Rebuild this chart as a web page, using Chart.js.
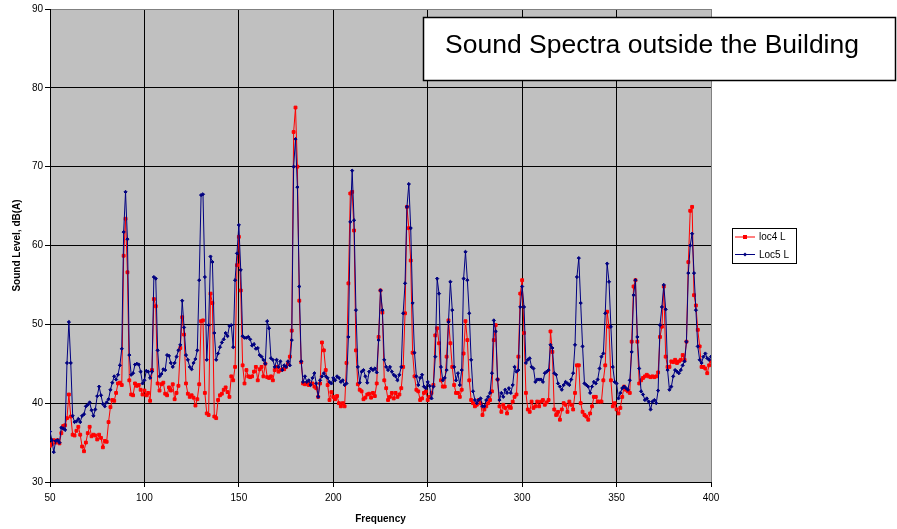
<!DOCTYPE html>
<html>
<head>
<meta charset="utf-8">
<title>Sound Spectra outside the Building</title>
<script src="https://cdn.jsdelivr.net/npm/chart.js@4.4.0/dist/chart.umd.min.js"></script>
<style>
  html, body { margin: 0; padding: 0; background: #ffffff; }
  #wrap { width: 897px; height: 529px; position: relative; }
  canvas { display: block; }
</style>
</head>
<body>
<div id="wrap"><canvas id="chart" width="897" height="529"></canvas></div>
<script>
// Spectrum start frequency and bin spacing (Hz)
const FREQ_START = 50;
const FREQ_STEP = 1;

// Sound level per frequency bin, dB(A) — measurement location 4
const loc4 = [
  34.6, 34.8, 35.3, 35.0, 35.3, 34.9, 36.2, 37.1, 37.2, 38.1,
  41.1, 38.3, 36.0, 35.9, 36.5, 37.0, 36.0, 34.5, 33.9, 35.0,
  36.2, 37.0, 35.8, 36.0, 35.9, 35.4, 36.0, 35.6, 34.4, 35.2,
  35.1, 37.6, 39.5, 40.4, 40.3, 41.3, 42.5, 42.6, 42.3, 58.7,
  63.4, 56.6, 42.9, 41.1, 41.0, 42.5, 42.2, 42.3, 41.7, 41.1,
  41.6, 41.0, 41.3, 40.3, 44.2, 53.2, 52.3, 42.5, 41.6, 42.4,
  42.6, 41.2, 41.0, 42.0, 41.6, 42.4, 40.5, 41.3, 42.2, 47.0,
  50.9, 48.7, 42.5, 41.2, 40.8, 41.0, 40.7, 39.7, 40.5, 42.4,
  50.4, 50.5, 41.3, 38.7, 38.5, 53.9, 52.7, 38.3, 38.1, 40.4,
  41.0, 41.2, 41.7, 42.0, 41.4, 40.8, 43.4, 42.9, 44.6, 57.5,
  61.1, 54.3, 44.8, 42.5, 44.2, 43.4, 43.3, 43.4, 44.0, 44.6,
  42.9, 44.3, 44.6, 43.4, 45.0, 43.3, 43.2, 43.4, 42.9, 44.2,
  44.6, 44.0, 44.2, 44.3, 44.3, 44.6, 45.0, 45.9, 49.2, 74.4,
  77.5, 70.0, 53.0, 45.2, 42.5, 42.4, 42.5, 42.3, 42.5, 42.5,
  42.1, 41.9, 40.8, 42.5, 47.7, 46.7, 44.2, 42.3, 40.4, 41.4,
  40.8, 40.5, 40.9, 40.0, 39.6, 40.0, 39.6, 45.1, 55.2, 66.6,
  66.8, 61.9, 46.7, 42.4, 41.7, 41.5, 40.5, 40.7, 41.1, 41.2,
  40.7, 41.3, 40.9, 42.5, 48.4, 54.3, 51.5, 42.9, 41.9, 40.4,
  40.8, 41.3, 40.6, 41.3, 40.8, 41.1, 41.9, 44.6, 51.4, 64.9,
  62.2, 58.1, 46.4, 43.4, 41.7, 41.5, 40.4, 40.6, 41.3, 41.5,
  40.4, 40.8, 41.3, 42.3, 48.6, 49.5, 47.6, 42.9, 42.1, 42.1,
  45.9, 50.5, 47.6, 44.6, 42.3, 41.3, 41.3, 40.8, 41.7, 46.3,
  50.4, 48.0, 42.9, 40.4, 40.0, 39.6, 39.8, 40.4, 40.0, 38.5,
  39.2, 39.6, 40.0, 40.4, 41.5, 48.0, 49.9, 43.0, 39.6, 38.9,
  39.8, 39.4, 38.7, 39.6, 39.4, 40.2, 40.8, 41.1, 45.9, 53.9,
  55.6, 48.9, 41.3, 39.2, 38.9, 40.2, 39.4, 39.6, 40.2, 39.6,
  40.2, 40.4, 39.8, 40.1, 40.4, 49.1, 46.5, 39.2, 38.5, 38.9,
  37.9, 39.2, 40.0, 39.8, 38.9, 40.2, 39.8, 39.2, 41.3, 44.8,
  44.8, 40.0, 38.9, 38.5, 38.3, 37.9, 38.7, 39.6, 40.8, 40.8,
  40.2, 40.2, 40.2, 42.9, 44.8, 51.6, 49.7, 42.9, 39.6, 40.0,
  39.2, 38.7, 39.4, 40.8, 42.1, 41.7, 41.5, 41.3, 47.8, 54.8,
  55.6, 47.8, 42.5, 42.9, 43.2, 43.4, 43.6, 43.4, 43.3, 43.4,
  43.3, 43.4, 43.9, 48.4, 49.7, 54.8, 45.9, 44.6, 44.6, 45.3,
  45.2, 45.5, 45.1, 45.3, 45.5, 46.1, 45.5, 47.8, 57.9, 64.4,
  64.9, 53.7, 52.4, 49.3, 47.2, 44.6, 44.6, 44.4, 43.8, 44.8,
  45.3
];

// Sound level per frequency bin, dB(A) — measurement location 5
const loc5 = [
  36.4, 35.3, 33.8, 35.2, 35.3, 35.0, 36.9, 36.8, 36.6, 45.1,
  50.3, 45.1, 38.4, 37.6, 37.7, 38.0, 37.6, 38.4, 38.6, 39.6,
  39.8, 40.1, 39.1, 38.4, 39.2, 40.9, 42.1, 41.0, 39.9, 39.6,
  40.1, 40.5, 41.7, 42.6, 43.4, 43.0, 43.6, 44.8, 46.9, 61.7,
  66.8, 60.8, 46.1, 43.6, 43.8, 44.9, 45.0, 44.9, 44.0, 42.5,
  42.9, 44.1, 44.0, 43.2, 44.0, 56.0, 55.8, 46.7, 43.4, 43.7,
  44.3, 44.2, 46.1, 46.0, 45.1, 44.6, 45.1, 45.9, 46.7, 47.4,
  53.0, 49.6, 46.1, 45.5, 44.6, 44.3, 45.1, 45.6, 46.7, 55.6,
  66.4, 66.5, 56.0, 45.5, 49.9, 58.6, 57.9, 48.9, 45.5, 46.3,
  47.1, 47.7, 48.1, 48.9, 48.5, 49.8, 49.9, 47.1, 55.6, 59.0,
  62.6, 56.9, 48.5, 48.3, 48.3, 48.4, 48.1, 47.3, 47.5, 46.9,
  47.0, 46.1, 45.9, 45.5, 45.0, 50.4, 49.5, 45.7, 45.5, 44.6,
  45.5, 44.6, 45.3, 44.2, 44.8, 44.6, 45.3, 44.8, 48.0, 70.0,
  73.5, 67.4, 54.8, 45.3, 42.7, 43.4, 42.7, 42.9, 42.3, 43.2,
  43.8, 42.5, 40.8, 42.9, 43.4, 43.8, 43.4, 43.2, 42.7, 42.5,
  43.2, 42.9, 43.4, 43.2, 42.7, 42.9, 42.3, 42.5, 48.4, 63.0,
  69.5, 63.2, 51.8, 44.6, 42.6, 44.0, 44.2, 43.4, 42.6, 44.0,
  44.4, 44.2, 44.4, 43.9, 48.0, 54.3, 51.8, 45.5, 44.6, 44.2,
  44.6, 44.0, 43.6, 43.4, 42.9, 43.6, 44.6, 51.4, 55.2, 64.9,
  67.8, 62.2, 52.7, 46.4, 43.4, 42.3, 43.2, 43.6, 42.1, 41.9,
  42.7, 42.2, 40.6, 42.1, 45.9, 55.8, 53.9, 44.6, 42.9, 43.2,
  44.2, 50.3, 55.4, 51.8, 44.6, 42.9, 43.8, 42.3, 44.2, 55.8,
  59.2, 55.6, 51.4, 45.5, 41.5, 40.4, 40.0, 40.4, 40.6, 39.6,
  39.6, 40.4, 40.8, 41.3, 43.8, 50.5, 49.1, 43.0, 40.4, 41.3,
  40.8, 41.7, 41.3, 41.9, 41.3, 42.3, 44.6, 44.0, 44.2, 52.2,
  54.8, 52.2, 45.1, 45.5, 45.7, 44.6, 44.4, 42.7, 43.0, 43.0,
  43.0, 42.7, 43.8, 44.0, 44.2, 47.4, 47.0, 43.8, 43.6, 42.5,
  42.1, 41.7, 42.3, 42.7, 42.5, 42.3, 43.0, 43.8, 47.4, 56.0,
  58.4, 52.7, 47.2, 42.5, 42.3, 42.1, 41.3, 42.1, 42.7, 42.5,
  43.0, 44.4, 45.9, 46.3, 51.4, 57.7, 55.4, 49.7, 44.6, 42.7,
  42.5, 40.6, 41.3, 41.9, 42.1, 41.9, 41.7, 42.9, 46.5, 53.7,
  55.6, 48.4, 44.4, 41.5, 41.1, 40.4, 40.6, 40.2, 39.2, 40.2,
  40.4, 40.0, 41.6, 49.9, 52.2, 55.0, 51.9, 44.2, 41.7, 42.1,
  43.4, 44.2, 44.0, 43.8, 44.2, 44.8, 45.3, 47.8, 56.5, 60.0,
  61.5, 56.5, 51.8, 47.2, 45.5, 45.1, 45.9, 46.3, 45.7, 45.5,
  45.9
];

const seriesNames = ['loc4 L', 'Loc5 L'];
const xTicks = [50, 100, 150, 200, 250, 300, 350, 400];
const yTicks = [30, 40, 50, 60, 70, 80, 90];
const chartTitle = 'Sound Spectra outside the Building';
const xTitle = 'Frequency';
const yTitle = 'Sound Level, dB(A)';

const frequency = loc4.map((_, i) => FREQ_START + i * FREQ_STEP);
const toPoints = (vals) => vals.map((v, i) => ({ x: frequency[i], y: v }));

const RED = '#ff0000';
const NAVY = '#000080';
const FONT = '"Liberation Sans", Arial, Helvetica, sans-serif';

// Grey plotting area behind the grid
const plotBackground = {
  id: 'plotBackground',
  beforeDraw(chart) {
    const { ctx, chartArea: a } = chart;
    ctx.save();
    ctx.fillStyle = '#c0c0c0';
    ctx.fillRect(a.left, a.top, a.right - a.left, a.bottom - a.top);
    ctx.restore();
  }
};

// Boxed title and boxed legend on top of the chart
const boxes = {
  id: 'boxes',
  afterDraw(chart) {
    const ctx = chart.ctx;
    ctx.save();
    // title box
    ctx.fillStyle = '#ffffff';
    ctx.fillRect(423, 17, 473, 64);
    ctx.strokeStyle = '#000000';
    ctx.lineWidth = 1.5;
    ctx.strokeRect(423.5, 17.5, 472, 63);
    ctx.fillStyle = '#000000';
    ctx.font = '26.5px ' + FONT;
    ctx.textBaseline = 'alphabetic';
    ctx.textAlign = 'left';
    ctx.fillText(chartTitle, 445, 53);

    // legend box
    ctx.fillStyle = '#ffffff';
    ctx.fillRect(732, 228, 64, 35);
    ctx.strokeStyle = '#000000';
    ctx.lineWidth = 1;
    ctx.strokeRect(732.5, 228.5, 64, 35);
    const rows = [
      { name: seriesNames[0], color: RED, y: 237, square: true },
      { name: seriesNames[1], color: NAVY, y: 254.5, square: false }
    ];
    ctx.font = '10px ' + FONT;
    ctx.textBaseline = 'middle';
    for (const r of rows) {
      ctx.strokeStyle = r.color;
      ctx.lineWidth = 1;
      ctx.beginPath();
      ctx.moveTo(735, r.y);
      ctx.lineTo(755, r.y);
      ctx.stroke();
      ctx.fillStyle = r.color;
      if (r.square) {
        ctx.fillRect(743, r.y - 2, 4, 4);
      } else {
        ctx.beginPath();
        ctx.moveTo(745, r.y - 2);
        ctx.lineTo(747, r.y);
        ctx.lineTo(745, r.y + 2);
        ctx.lineTo(743, r.y);
        ctx.closePath();
        ctx.fill();
      }
      ctx.fillStyle = '#000000';
      ctx.fillText(r.name, 759, r.y + 0.5);
    }
    ctx.restore();
  }
};

new Chart(document.getElementById('chart'), {
  type: 'line',
  data: {
    datasets: [
      {
        label: seriesNames[0],
        data: toPoints(loc4),
        borderColor: RED,
        backgroundColor: RED,
        borderWidth: 1,
        pointStyle: 'rect',
        pointRadius: 2,
        pointBorderWidth: 1,
        pointBackgroundColor: RED,
        pointBorderColor: RED,
        tension: 0,
        order: 1
      },
      {
        label: seriesNames[1],
        data: toPoints(loc5),
        borderColor: NAVY,
        backgroundColor: NAVY,
        borderWidth: 1,
        pointStyle: 'rectRot',
        pointRadius: 1.6,
        pointBorderWidth: 1,
        pointBackgroundColor: NAVY,
        pointBorderColor: NAVY,
        tension: 0,
        order: 0
      }
    ]
  },
  options: {
    responsive: false,
    animation: false,
    devicePixelRatio: 1,
    layout: { padding: { top: 9, right: 186, left: 0, bottom: 0 } },
    plugins: { legend: { display: false }, tooltip: { enabled: false } },
    scales: {
      x: {
        type: 'linear',
        min: 50,
        max: 400,
        afterBuildTicks: (s) => { s.ticks = xTicks.map(v => ({ value: v })); },
        afterFit: (s) => { s.height = 47; },
        ticks: { color: '#000', font: { family: FONT, size: 10 }, padding: 5, maxRotation: 0 },
        grid: {
          color: (c) => (c.tick && c.tick.value === 400 ? '#808080' : '#000000'),
          lineWidth: 1,
          tickLength: 5,
          tickColor: '#000000'
        },
        border: { color: '#000000', width: 1 },
        title: {
          display: true,
          text: xTitle,
          color: '#000',
          font: { family: FONT, size: 10, weight: 'bold' },
          padding: { top: 0, bottom: 4 }
        }
      },
      y: {
        type: 'linear',
        min: 30,
        max: 90,
        afterBuildTicks: (s) => { s.ticks = yTicks.map(v => ({ value: v })); },
        afterFit: (s) => { s.width = 50; },
        ticks: { color: '#000', font: { family: FONT, size: 10 }, padding: 2 },
        grid: {
          color: (c) => (c.tick && c.tick.value === 90 ? '#808080' : '#000000'),
          lineWidth: 1,
          tickLength: 5,
          tickColor: '#000000'
        },
        border: { color: '#000000', width: 1 },
        title: {
          display: true,
          text: yTitle,
          color: '#000',
          font: { family: FONT, size: 10, weight: 'bold' },
          padding: { top: 11, bottom: 0 }
        }
      }
    }
  },
  plugins: [plotBackground, boxes]
});
</script>
</body>
</html>
